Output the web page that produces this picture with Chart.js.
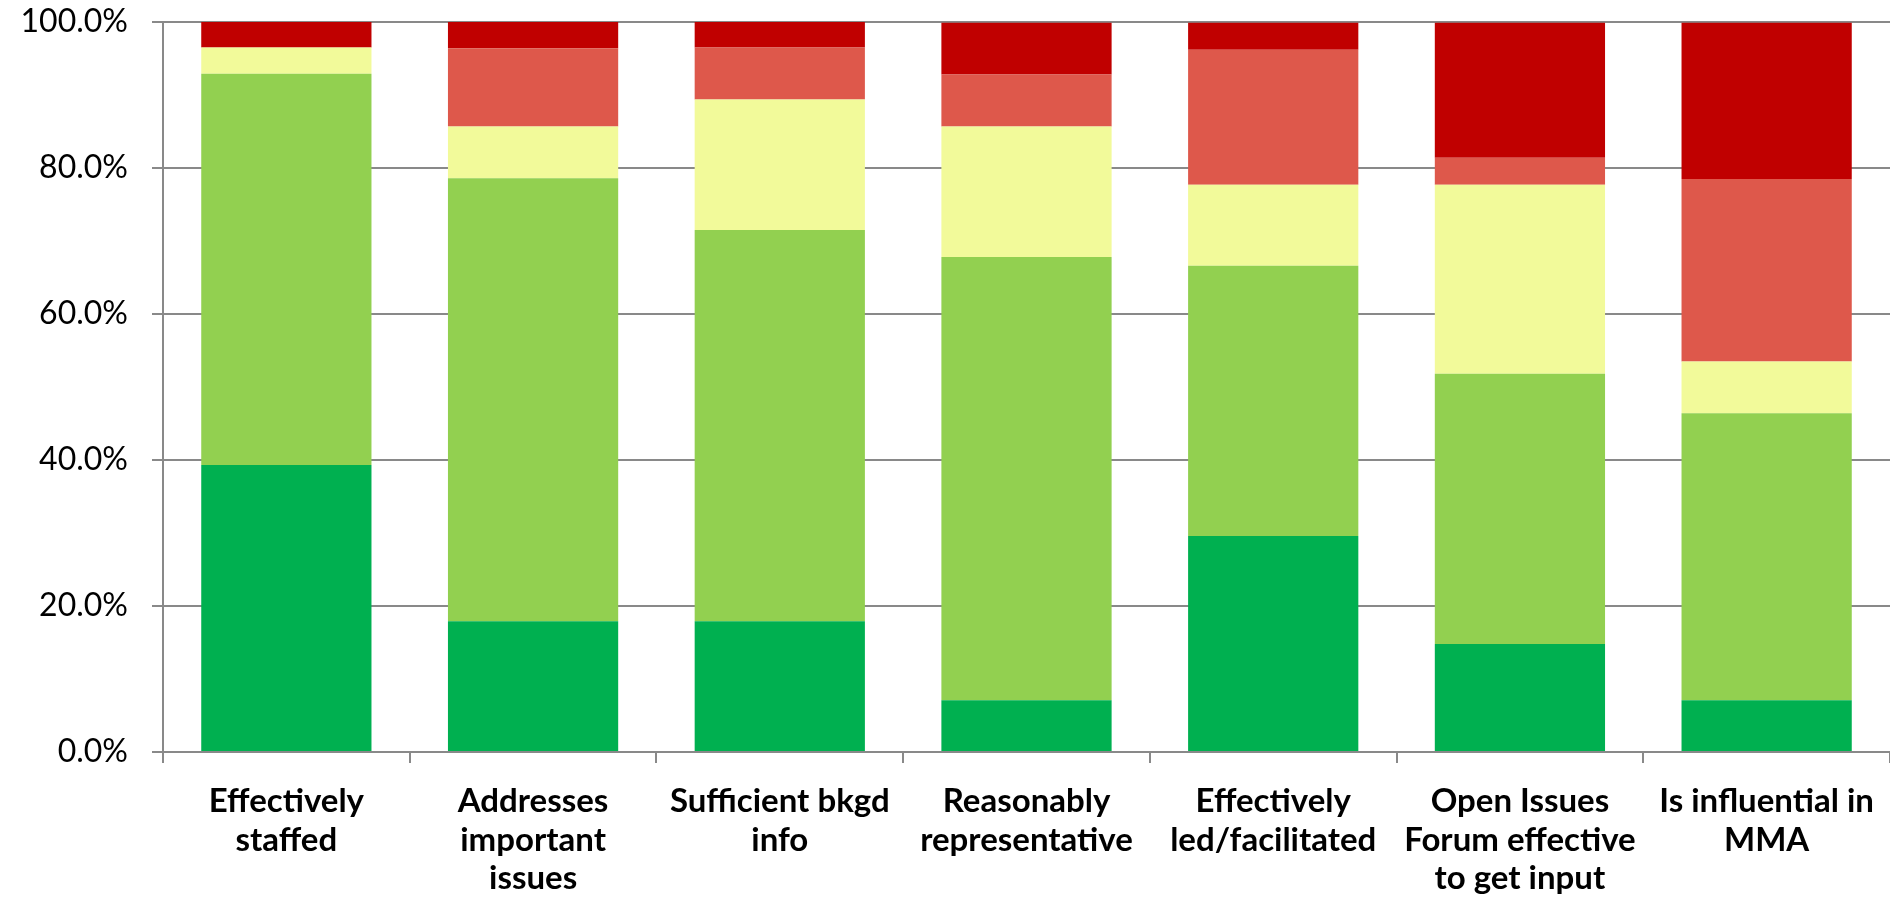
<!DOCTYPE html>
<html>
<head>
<meta charset="utf-8">
<script src="https://cdn.jsdelivr.net/npm/chart.js@4"></script>
<style>
  body { margin: 0; background: #fff; }
  canvas { display: block; }
</style>
</head>
<body>
<canvas id="survey" width="1890" height="910"></canvas>
<script>
// question labels (one array entry per line)
const questions = [
    ["Effectively", "staffed"],
    ["Addresses", "important", "issues"],
    ["Sufficient bkgd", "info"],
    ["Reasonably", "representative"],
    ["Effectively", "led/facilitated"],
    ["Open Issues", "Forum effective", "to get input"],
    ["Is influential in", "MMA"]
];

// share of answers per question, in percent (bottom of stack first)
const stronglyAgree    = [39.3, 17.9, 17.9,  7.1, 29.6, 14.8,  7.1];
const agree            = [53.6, 60.7, 53.6, 60.7, 37.0, 37.0, 39.3];
const neutral          = [ 3.6,  7.1, 17.9, 17.9, 11.1, 25.9,  7.1];
const disagree         = [ 0.0, 10.7,  7.1,  7.1, 18.5,  3.7, 25.0];
const stronglyDisagree = [ 3.6,  3.6,  3.6,  7.1,  3.7, 18.5, 21.4];

// y axis ticks
const yTicks = [0, 20, 40, 60, 80, 100];

const gridGray = "#898989";

function series(label, values, colour) {
    return {
        label: label,
        data: values,
        backgroundColor: colour,
        borderWidth: 0,
        barPercentage: 0.69,
        categoryPercentage: 1.0
    };
}

const ctx = document.getElementById("survey").getContext("2d");

const chart = new Chart(ctx, {
    type: "bar",
    data: {
        labels: questions,
        datasets: [
            series("Strongly agree", stronglyAgree, "#00B050"),
            series("Agree", agree, "#92D050"),
            series("Neutral", neutral, "#F2FA9A"),
            series("Disagree", disagree, "#DE584B"),
            series("Strongly disagree", stronglyDisagree, "#C00000")
        ]
    },
    options: {
        responsive: false,
        animation: false,
        devicePixelRatio: 1,
        layout: { padding: { top: 22, right: 0, bottom: 0, left: 0 } },
        plugins: {
            legend: { display: false },
            tooltip: { enabled: false }
        },
        scales: {
            x: {
                stacked: true,
                offset: true,
                grid: {
                    offset: true,
                    drawOnChartArea: false,
                    drawTicks: true,
                    tickLength: 11,
                    color: gridGray,
                    lineWidth: 2
                },
                border: { color: gridGray, width: 2 },
                ticks: {
                    autoSkip: false,
                    maxRotation: 0,
                    minRotation: 0,
                    padding: 19,
                    color: "#000",
                    font: { family: "Lato", weight: "bold", size: 33, lineHeight: 1.17 }
                },
                afterFit: function (scale) {
                    scale.height = 158;
                    scale.paddingLeft = 0;
                    scale.paddingRight = 0;
                }
            },
            y: {
                stacked: true,
                min: 0,
                max: 100,
                afterBuildTicks: function (scale) {
                    scale.ticks = yTicks.map(v => ({ value: v }));
                },
                grid: {
                    color: gridGray,
                    lineWidth: 2,
                    drawTicks: true,
                    tickLength: 11
                },
                border: { color: gridGray, width: 2 },
                ticks: {
                    padding: 24,
                    color: "#000",
                    font: { family: "Lato", size: 32 },
                    callback: v => v.toFixed(1) + "%"
                },
                afterFit: function (scale) {
                    scale.width = 163;
                    scale.paddingTop = 0;
                    scale.paddingBottom = 0;
                }
            }
        }
    }
});
</script>
</body>
</html>
